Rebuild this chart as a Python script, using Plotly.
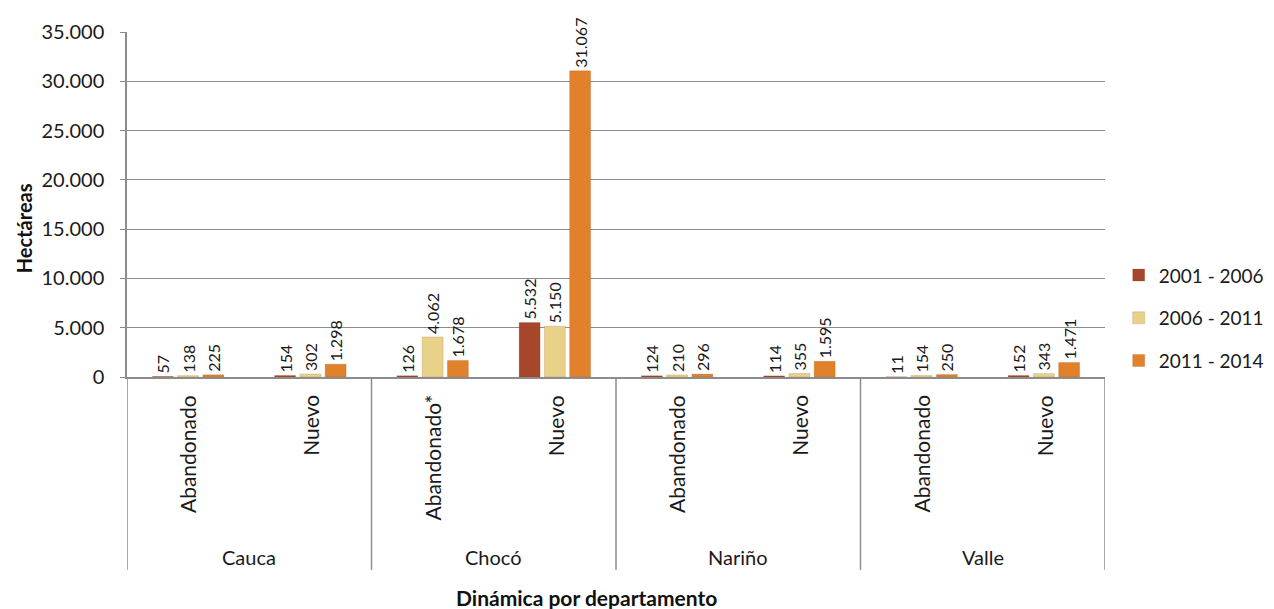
import plotly.graph_objects as go

# datos (hectareas)
departamentos = ['Cauca', 'Chocó', 'Nariño', 'Valle']
dinamicas = [
    ['Abandonado', 'Nuevo'],
    ['Abandonado*', 'Nuevo'],
    ['Abandonado', 'Nuevo'],
    ['Abandonado', 'Nuevo'],
]
periodos = ['2001 - 2006', '2006 - 2011', '2011 - 2014']
colores = ['#A6462A', '#E8D28A', '#E2812B']

v_2001_2006 = [57, 154, 126, 5532, 124, 114, 11, 152]
v_2006_2011 = [138, 302, 4062, 5150, 210, 355, 154, 343]
v_2011_2014 = [225, 1298, 1678, 31067, 296, 1595, 250, 1471]

categorias = []
etiquetas = []
for dep, dins in zip(departamentos, dinamicas):
    for d in dins:
        categorias.append(f'{dep}|{d}')
        etiquetas.append(d)

FONT = 'Lato'
TXT = '#1a1a1a'
GRIS = '#8C8C8C'

fig = go.Figure()

for nombre, valores, color in zip(periodos, [v_2001_2006, v_2006_2011, v_2011_2014], colores):
    fig.add_trace(go.Bar(
        x=categorias,
        y=valores,
        name=nombre,
        legendgroup=nombre,
        marker=dict(color=color, line=dict(color='rgba(120,60,20,0.35)', width=0.5)),
        texttemplate='%{y:,}',
        textposition='outside',
        textangle=-90,
        constraintext='none',
        cliponaxis=False,
        textfont=dict(family=FONT, size=16, color=TXT),
    ))

# etiquetas de dinamica (rotadas) y de departamento
annotations = []
for cat, lab in zip(categorias, etiquetas):
    annotations.append(dict(
        x=cat, xref='x', y=-0.046, yref='paper',
        text=lab, textangle=-90, showarrow=False,
        xanchor='center', yanchor='top',
        font=dict(family=FONT, size=21, color=TXT),
    ))
for i, dep in enumerate(departamentos):
    annotations.append(dict(
        x=2 * i + 0.5, xref='x', y=-0.522, yref='paper',
        text=dep, showarrow=False, xanchor='center', yanchor='middle',
        font=dict(family=FONT, size=20, color=TXT),
    ))
annotations.append(dict(
    x=0.47, xref='paper', y=-0.64, yref='paper',
    text='<b>Dinámica por departamento</b>', showarrow=False,
    xanchor='center', yanchor='middle',
    font=dict(family=FONT, size=21, color='#111111'),
))
annotations.append(dict(
    x=-0.105, xref='paper', y=0.432, yref='paper',
    text='<b>Hectáreas</b>', textangle=-90, showarrow=False,
    xanchor='center', yanchor='middle',
    font=dict(family=FONT, size=20, color='#111111'),
))

# divisores verticales bajo el eje
shapes = []
for k in range(len(departamentos) + 1):
    shapes.append(dict(
        type='line', xref='x', yref='paper',
        x0=2 * k - 0.5, x1=2 * k - 0.5, y0=0, y1=-0.559,
        line=dict(color=GRIS, width=1.5),
    ))

fig.update_layout(
    width=1266,
    height=601,
    margin=dict(l=119, r=169, t=24, b=232, autoexpand=False),
    paper_bgcolor='white',
    plot_bgcolor='white',
    barmode='group',
    bargap=0.38,
    bargroupgap=0.17,
    separators=',.',
    showlegend=True,
    legend=dict(
        x=1.014, y=0.35, xanchor='left', yanchor='top',
        font=dict(family=FONT, size=19, color=TXT),
        traceorder='grouped',
        tracegroupgap=15,
        itemwidth=30,
    ),
    annotations=annotations,
    shapes=shapes,
    font=dict(family=FONT),
)

fig.update_xaxes(
    type='category',
    showticklabels=False,
    showgrid=False,
    showline=True,
    linecolor=GRIS,
    linewidth=1.5,
    range=[-0.5, 7.5],
    ticks='',
)
fig.update_yaxes(
    range=[0, 35000],
    dtick=5000,
    tickformat=',',
    showgrid=True,
    gridcolor=GRIS,
    gridwidth=1,
    showline=True,
    linecolor=GRIS,
    linewidth=1.5,
    ticks='outside',
    ticklen=5,
    tickcolor=GRIS,
    ticklabelstandoff=12,
    zeroline=False,
    tickfont=dict(family=FONT, size=20, color=TXT),
)

fig.write_html('out.html')
